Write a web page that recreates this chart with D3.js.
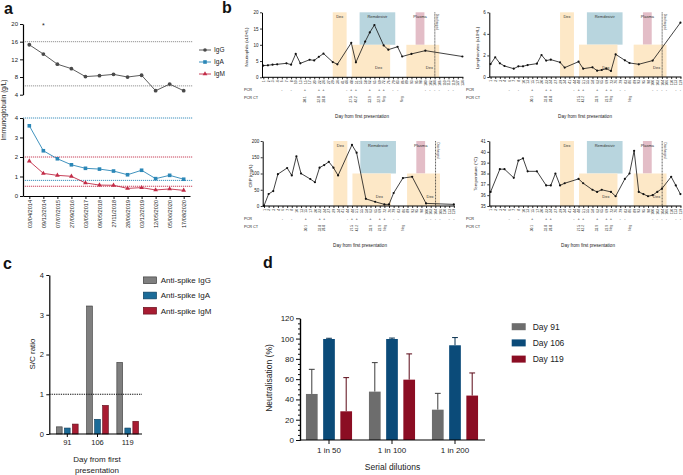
<!DOCTYPE html>
<html><head><meta charset="utf-8">
<script src="https://cdn.jsdelivr.net/npm/d3@7"></script>
<style>body{margin:0;background:#fff}</style>
</head><body><svg id="c" width="683" height="475"></svg>
<script>
// ---------------- DATA ----------------
// Panel a
const igDates = ["03/04/2014","09/12/2014","07/07/2015","27/09/2016","03/05/2017","09/05/2018","27/11/2018","28/06/2019","03/12/2019","12/05/2020","05/06/2020","17/08/2020"];
const igG = [15.3,13.2,10.9,9.9,8.1,8.3,8.6,8.0,8.4,4.9,6.4,4.9];
const igA = [3.6,2.32,1.91,1.6,1.42,1.38,1.28,1.09,1.32,0.89,1.06,0.86];
const igM = [1.79,1.16,1.06,1.01,0.67,0.56,0.55,0.39,0.43,0.31,0.36,0.29];
const igGRef = [6,16], igARef = [0.8,4], igMRef = [0.5,2];
const igNames = ["IgG","IgA","IgM"];

// Panel b
const dayLabels = [1,2,3,4,6,7,8,10,13,15,17,20,22,24,27,29,34,41,44,48,51,55,58,62,65,69,72,76,79,83,86,89,93,95,98,100,102,104,106,110,113,119,127,134];
const neutrophils = [3.6,3.7,3.9,4.0,null,4.3,3.9,7.2,4.3,null, 5.4,5.2,6.3,7.3,null,4.7,4.0,null,null,10.6, 4.6,null,11.0,13.8,16.1,null,9.8,8.5,null,9.4, 6.4,null,7.2,null,null,8.2,null,null,null,null, null,null,null,6.4];
const lymphocytes = [1.2,1.83,1.27,1.02,null,0.77,0.99,0.99,1.11,null, 1.24,2.04,1.52,1.61,null,1.36,0.87,null,null,1.42, 0.77,null,0.9,0.59,0.65,0.77,0.56,2.1,null,1.55, 1.3,null,1.18,null,null,1.52,null,null,null,null, null,5.04];
const crp = [1,37,46,98,null,117,94,153,100,null, 83,73,118,126,136,118,94,null,null,188, 164,null,22,null,13,null,5,5,40,null, 86,null,90,null,null,8,null,null,null,null, null,5];
const temperature = [36.3,null,38.4,38.4,null,37.6,39.2,39.4,38.2,null, 38.2,null,36.9,36.9,38.0,36.9,37.1,null,null,37.5, 37.1,null,36.5,36.3,36.5,null,36.3,35.9,null,37.5, 38.0,40.1,36.3,36.1,35.9,36.0,36.3,36.6,null,37.7, 36.9,36.1];
const pcrResult = ["","","","","-","","-","","","+", "","","+","+","","","","","-","+", "+","","","+","","+","+","","-","-", "","","","","","-","-","-","-","", "-","-","",""];
const pcrCT = ["","","","","","","","","","30.1", "","","32.8","28.8","","","","","","27.5", "42.2","","","33.9","","22.9","Neg","","","", "Neg","","","","","","","","","", "","","",""];
// treatment periods, as positions on the day axis (tick index)
const treatments = [
  {name:"Dex", from:15, to:18, part:"full"},
  {name:"Remdesivir", from:20.8, to:28.5, part:"top"},
  {name:"Dex", from:19.1, to:27.4, part:"bottom"},
  {name:"Plasma", from:32.9, to:34.8, part:"top"},
  {name:"Dex", from:30.9, to:38, part:"bottom"}
];
const dischargeIndex = 37.05;

// Panel c
const cDays = ["91","106","119"];
const cSeries = ["Anti-spike IgG","Anti-spike IgA","Anti-spike IgM"];
const cIgG = [0.18,3.22,1.8];
const cIgA = [0.15,0.37,0.15];
const cIgM = [0.25,0.72,0.32];
const cCutoff = 1;

// Panel d
const dDilutions = ["1 in 50","1 in 100","1 in 200"];
const dDays = ["Day 91","Day 106","Day 119"];
const neutDay91 = [45.4,47.7,29.9];
const neutDay106 = [99.6,99.6,93.4];
const neutDay119 = [28.3,59.5,43.8];
const errDay91 = [24.3,28.6,16.1];
const errDay106 = [0.7,0.9,7.6];
const errDay119 = [33.2,25.4,22.3];

// ---------------- DRAW ----------------
const FONT = '"Liberation Sans", Arial, Helvetica, sans-serif';
const svg = d3.select("#c").attr("font-family", FONT);

function styleAxis(g, fs, w){
  g.attr("font-family", FONT).attr("font-size", fs);
  g.selectAll("path.domain").attr("stroke","#000").attr("stroke-width", w||1.2);
  g.selectAll(".tick line").attr("stroke","#000").attr("stroke-width", (w||1.2)*0.8);
  g.selectAll(".tick text").attr("fill","#222");
  return g;
}
function letter(t,x,y){
  svg.append("text").attr("x",x).attr("y",y).attr("font-size",16).attr("font-weight","bold").attr("fill","#111").text(t);
}

// ===== Panel a =====
letter("a",4,14);
const colA = {IgG:"#4a4a4a", IgA:"#2b87b7", IgM:"#c22c47"};
const xA = d3.scalePoint().domain(igDates).range([23,190]).padding(0.45);
const yAt = d3.scaleLinear().domain([4,20]).range([94.7,24]);
const yAb = d3.scaleLinear().domain([0,4]).range([196,118]);
function refLine(y,color){
  svg.append("line").attr("x1",23).attr("x2",193).attr("y1",y).attr("y2",y)
    .attr("stroke",color).attr("stroke-width",0.9).attr("stroke-dasharray","1.2,0.8");
}
refLine(yAt(igGRef[0]),"#8a8a8a"); refLine(yAt(igGRef[1]),"#8a8a8a");
refLine(yAb(igARef[0]),colA.IgA); refLine(yAb(igARef[1]),colA.IgA);
refLine(yAb(igMRef[0]),colA.IgM); refLine(yAb(igMRef[1]),colA.IgM);

styleAxis(svg.append("g").attr("transform","translate(23,0)")
  .call(d3.axisLeft(yAt).tickValues([4,8,12,16,20]).tickSize(3).tickSizeOuter(0).tickPadding(2)), 6);
styleAxis(svg.append("g").attr("transform","translate(23,0)")
  .call(d3.axisLeft(yAb).ticks(4).tickFormat(d3.format("d")).tickSize(3).tickSizeOuter(0).tickPadding(2)), 6);
const gxA = styleAxis(svg.append("g").attr("transform","translate(0,196)")
  .call(d3.axisBottom(xA).tickSize(3).tickSizeOuter(0)), 5.6);
gxA.selectAll(".tick text").attr("transform","rotate(-90)").attr("x",-4).attr("y",0).attr("dy","0.35em").style("text-anchor","end");

svg.append("text").attr("transform","translate(6,110) rotate(-90)").attr("text-anchor","middle")
  .attr("font-size",6.5).attr("fill","#222").text("Immunoglobulin (g/L)");
svg.append("text").attr("x",43.3).attr("y",28).attr("text-anchor","middle").attr("font-size",7).attr("fill","#222").text("*");

function marker(g, type, x, y, color, s){
  if(type==="IgG") g.append("circle").attr("cx",x).attr("cy",y).attr("r",s*0.5).attr("fill",color);
  else if(type==="IgA") g.append("rect").attr("x",x-s/2).attr("y",y-s/2).attr("width",s).attr("height",s).attr("fill",color);
  else g.append("path").attr("d",d3.symbol(d3.symbolTriangle, s*s*0.75)()).attr("transform",`translate(${x},${y})`).attr("fill",color);
}
[[igG,yAt,"IgG"],[igA,yAb,"IgA"],[igM,yAb,"IgM"]].forEach(([vals,ys,name])=>{
  const line = d3.line().x((d,i)=>xA(igDates[i])).y(d=>ys(d));
  svg.append("path").datum(vals).attr("d",line).attr("fill","none").attr("stroke",colA[name]).attr("stroke-width",0.9);
  const g = svg.append("g");
  vals.forEach((v,i)=>marker(g,name,xA(igDates[i]),ys(v),colA[name],name==="IgG"?3.8:3.6));
});
igNames.forEach((n,i)=>{
  const y = 50 + i*12;
  svg.append("line").attr("x1",199).attr("x2",211).attr("y1",y).attr("y2",y).attr("stroke",colA[n]).attr("stroke-width",0.9);
  marker(svg,n,205,y,colA[n],3.6);
  svg.append("text").attr("x",214).attr("y",y+2.3).attr("font-size",6.5).attr("fill","#222").text(n);
});

// ===== Panel b =====
letter("b",222,13);
const trColor = {Dex:"#fde8c7", Remdesivir:"#b8d5de", Plasma:"#e3bdc7"};
const panelsB = [
  {vals:neutrophils, domain:[0,20], ticks:[0,5,10,15,20], x0:262, yt:12.3, yb:77.3, ylab:"Neutrophils (x10⁹/L)", ylabX:248, ylabY:47, rowX:244, titleX:362},
  {vals:lymphocytes, domain:[0,6], ticks:[0,2,4,6], x0:489.3, yt:12.3, yb:77, ylab:"Lymphocytes (x10⁹/L)", ylabX:479, ylabY:48, rowX:466, titleX:585},
  {vals:crp, domain:[0,200], ticks:[0,50,100,150,200], x0:262.7, yt:141, yb:206, ylab:"CRP (mg/L)", ylabX:252, ylabY:176, rowX:244, titleX:360},
  {vals:temperature, domain:[35,41], ticks:[35,36,37,38,39,40,41], x0:489.3, yt:141, yb:206, ylab:"Temperature (°C)", ylabX:477, ylabY:174, rowX:466, titleX:588}
];
panelsB.forEach(p=>{
  const n = p.vals.length, step = 4.63;
  const x = d3.scaleLinear().domain([0,n-1]).range([p.x0+1.3, p.x0+1.3+(n-1)*step]);
  const y = d3.scaleLinear().domain(p.domain).range([p.yb,p.yt]);
  const mid = (p.domain[0]+p.domain[1])/2;
  const g = svg.append("g");
  treatments.forEach(t=>{
    const top = t.part==="bottom" ? mid : p.domain[1];
    const bot = t.part==="top" ? mid : p.domain[0];
    g.append("rect").attr("x",x(t.from)).attr("width",x(t.to)-x(t.from))
      .attr("y",y(top)).attr("height",y(bot)-y(top)).attr("fill",trColor[t.name]);
  });
  treatments.forEach(t=>{
    const w = x(t.to)-x(t.from);
    const tx = t.part==="bottom" ? x(t.from)+0.7*w : x(t.from)+w/2;
    const ty = t.part==="bottom" ? p.yb-8.5 : p.yt+5.5;
    g.append("text").attr("x",tx).attr("y",ty).attr("text-anchor","middle").attr("font-size",4).attr("fill","#333").text(t.name);
  });
  const xd = x(dischargeIndex);
  g.append("line").attr("x1",xd).attr("x2",xd).attr("y1",p.yt).attr("y2",p.yb).attr("stroke","#222").attr("stroke-width",0.7).attr("stroke-dasharray","1,0.5");
  g.append("text").attr("transform",`translate(${xd+1.5},${p.yt+1.5}) rotate(90)`).attr("font-size",3.2).attr("fill","#333").text("Discharged");

  const pts = p.vals.map((v,i)=>({i,v})).filter(d=>d.v!=null);
  g.append("path").datum(pts).attr("d",d3.line().x(d=>x(d.i)).y(d=>y(d.v)))
    .attr("fill","none").attr("stroke","#111").attr("stroke-width",0.8);
  g.selectAll("circle.pt").data(pts).join("circle").attr("cx",d=>x(d.i)).attr("cy",d=>y(d.v)).attr("r",1.1).attr("fill","#111");

  styleAxis(svg.append("g").attr("transform",`translate(${p.x0},0)`)
    .call(d3.axisLeft(y).tickValues(p.ticks).tickFormat(d3.format("d")).tickSize(2).tickSizeOuter(0).tickPadding(1.5)), 4.5, 1);
  const gx = styleAxis(svg.append("g").attr("transform",`translate(0,${p.yb})`)
    .call(d3.axisBottom(x).tickValues(d3.range(n)).tickFormat(i=>dayLabels[i]).tickSize(2).tickSizeOuter(0)), 3.3, 1);
  gx.select("path.domain").attr("d",`M${p.x0},0H${x(n-1)+1}`);
  gx.selectAll(".tick text").attr("transform","rotate(-90)").attr("x",-3).attr("y",0).attr("dy","0.35em").style("text-anchor","end");

  svg.append("text").attr("x",p.rowX).attr("y",p.yb+14).attr("font-size",3.8).attr("fill","#222").text("PCR");
  svg.append("text").attr("x",p.rowX).attr("y",p.yb+22).attr("font-size",3.8).attr("fill","#222").text("PCR CT");
  for(let i=0;i<n;i++){
    if(pcrResult[i]) svg.append("text").attr("x",x(i)).attr("y",p.yb+14).attr("text-anchor","middle").attr("font-size",4).attr("fill","#222").text(pcrResult[i]);
    if(pcrCT[i]) svg.append("text").attr("transform",`translate(${x(i)+1.2},${p.yb+19}) rotate(-90)`).attr("text-anchor","end").attr("font-size",3.2).attr("fill","#222").text(pcrCT[i]);
  }
  svg.append("text").attr("x",p.titleX).attr("y",p.yb+41).attr("text-anchor","middle").attr("font-size",4.6).attr("fill","#222").text("Day from first presentation");
  svg.append("text").attr("transform",`translate(${p.ylabX},${p.ylabY}) rotate(-90)`).attr("text-anchor","middle").attr("font-size",4.4).attr("fill","#222").text(p.ylab);
});

// ===== Panel c =====
letter("c",3,269);
const colC = {"Anti-spike IgG":"#7f7f7f","Anti-spike IgA":"#1b6b98","Anti-spike IgM":"#a81c32"};
const strokeC = {"Anti-spike IgG":"#333","Anti-spike IgA":"#0d3a57","Anti-spike IgM":"#5c0d19"};
const cVals = {"Anti-spike IgG":cIgG,"Anti-spike IgA":cIgA,"Anti-spike IgM":cIgM};
const xC = d3.scaleBand().domain(cDays).range([52.2,142.8]);
const xCs = d3.scaleBand().domain(cSeries).range([-10.85,10.85]).paddingInner(0.2875);
const yC = d3.scaleLinear().domain([0,4]).range([434,275]);
cSeries.forEach(s=>{
  svg.append("g").selectAll("rect").data(cDays).join("rect")
    .attr("x",(d)=>xC(d)+xC.bandwidth()/2+xCs(s))
    .attr("width",xCs.bandwidth())
    .attr("y",(d,i)=>yC(cVals[s][i])).attr("height",(d,i)=>yC(0)-yC(cVals[s][i]))
    .attr("fill",colC[s]).attr("stroke",strokeC[s]).attr("stroke-width",0.6);
});
svg.append("line").attr("x1",49.3).attr("x2",142).attr("y1",yC(cCutoff)).attr("y2",yC(cCutoff))
  .attr("stroke","#111").attr("stroke-width",1).attr("stroke-dasharray","1.3,1");
styleAxis(svg.append("g").attr("transform","translate(49.3,0)")
  .call(d3.axisLeft(yC).ticks(4).tickFormat(d3.format("d")).tickSize(3).tickSizeOuter(0).tickPadding(2.5)), 7.5, 1.2);
const gxC = styleAxis(svg.append("g").attr("transform","translate(0,434)")
  .call(d3.axisBottom(xC).tickSize(3).tickSizeOuter(0).tickPadding(2.5)), 7.5, 1.2);
gxC.select("path.domain").attr("d","M49.3,0H142");
svg.append("text").attr("transform","translate(34.5,354) rotate(-90)").attr("text-anchor","middle").attr("font-size",8).attr("fill","#222").text("S/C ratio");
svg.append("text").attr("x",97).attr("y",462).attr("text-anchor","middle").attr("font-size",8).attr("fill","#222").text("Day from first");
svg.append("text").attr("x",97).attr("y",473).attr("text-anchor","middle").attr("font-size",8).attr("fill","#222").text("presentation");
cSeries.forEach((s,i)=>{
  const y = 280.3 + i*15.2;
  svg.append("rect").attr("x",143.3).attr("y",y-3.4).attr("width",13.3).attr("height",6.8).attr("fill",colC[s]).attr("stroke",strokeC[s]).attr("stroke-width",0.6);
  svg.append("text").attr("x",160.7).attr("y",y+2.9).attr("font-size",8).attr("fill","#222").text(s);
});

// ===== Panel d =====
letter("d",263,267.7);
const colD = {"Day 91":"#6d6d6d","Day 106":"#0b4b79","Day 119":"#8b0d23"};
const errColD = {"Day 91":"#3c3c3c","Day 106":"#07304f","Day 119":"#5a0816"};
const dVals = {"Day 91":neutDay91,"Day 106":neutDay106,"Day 119":neutDay119};
const dErr = {"Day 91":errDay91,"Day 106":errDay106,"Day 119":errDay119};
const xD = d3.scaleBand().domain(dDilutions).range([297.5,486.5]);
const xDs = d3.scaleBand().domain(dDays).range([-23.05,23.05]).paddingInner(0.32);
const yD = d3.scaleLinear().domain([0,120]).range([440,318.3]);
dDays.forEach(s=>{
  const g = svg.append("g");
  dDilutions.forEach((d,i)=>{
    const bx = xD(d)+xD.bandwidth()/2+xDs(s), bw = xDs.bandwidth(), cx = bx+bw/2;
    const v = dVals[s][i], e = dErr[s][i];
    g.append("line").attr("x1",cx).attr("x2",cx).attr("y1",yD(v)).attr("y2",yD(v+e)).attr("stroke",errColD[s]).attr("stroke-width",1);
    g.append("line").attr("x1",cx-2.9).attr("x2",cx+2.9).attr("y1",yD(v+e)).attr("y2",yD(v+e)).attr("stroke",errColD[s]).attr("stroke-width",1);
    g.append("rect").attr("x",bx).attr("width",bw).attr("y",yD(v)).attr("height",yD(0)-yD(v)).attr("fill",colD[s]);
  });
});
styleAxis(svg.append("g").attr("transform","translate(300,0)")
  .call(d3.axisLeft(yD).tickValues(d3.range(0,121,5).filter(v=>v%20)).tickSize(2).tickSizeOuter(0).tickFormat("")), 8, 1.2);
styleAxis(svg.append("g").attr("transform","translate(300,0)")
  .call(d3.axisLeft(yD).tickValues(d3.range(0,121,20)).tickSize(4).tickSizeOuter(0).tickPadding(2)), 8, 1.2);
const gxD = styleAxis(svg.append("g").attr("transform","translate(0,440)")
  .call(d3.axisBottom(xD).tickSize(4).tickSizeOuter(0).tickPadding(3)), 8, 1.2);
gxD.select("path.domain").attr("d","M300,0H485");
svg.append("text").attr("transform","translate(272,378) rotate(-90)").attr("text-anchor","middle").attr("font-size",8.5).attr("fill","#222").text("Neutralisation (%)");
svg.append("text").attr("x",392.5).attr("y",470).attr("text-anchor","middle").attr("font-size",8.5).attr("fill","#222").text("Serial dilutions");
dDays.forEach((s,i)=>{
  const y = 326.7 + i*16.2;
  svg.append("rect").attr("x",511.7).attr("y",y-3.5).attr("width",14).attr("height",7).attr("fill",colD[s]);
  svg.append("text").attr("x",532.7).attr("y",y+3.1).attr("font-size",8.5).attr("fill","#222").text(s);
});
</script></body></html>
